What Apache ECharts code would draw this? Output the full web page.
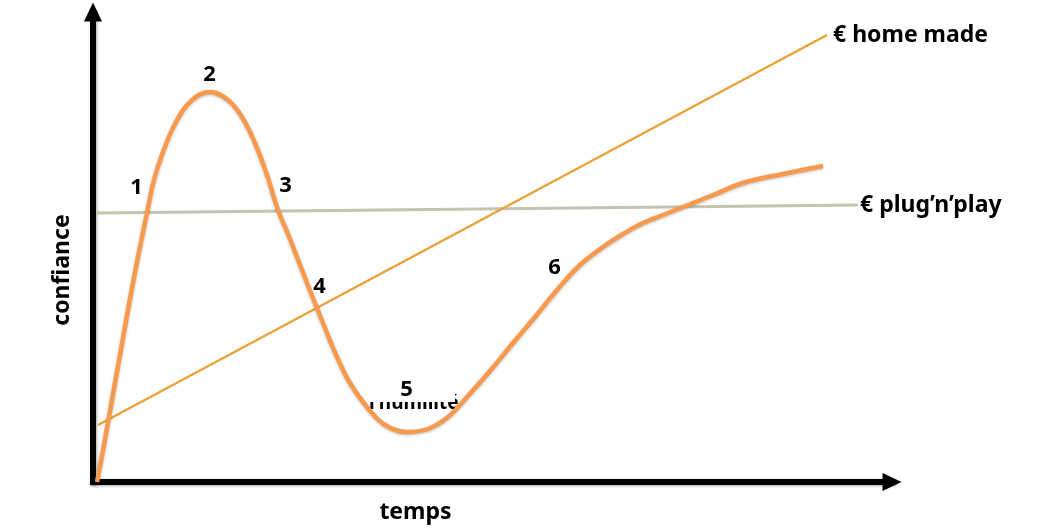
<!DOCTYPE html>
<html><head><meta charset="utf-8">
<script src="https://cdn.jsdelivr.net/npm/echarts@6/dist/echarts.min.js"></script>
<style>html,body{margin:0;padding:0;background:#fff}#c{width:1041px;height:530px}</style>
</head><body><div id="c"></div>
<script>
// Hype-cycle curve (x = temps, y = confiance), arbitrary units
const hypeX = [4,11,19,27,35,44,54,61,70,82,97,117,135,149,162,174,185,195,204,214,224,234,244,257,274,292,314,335,355,374,397,420,442,464,487,510,530,550,570,590,620,650,690,730];
const hypeY = [0,37,82,127,172,220,269,302,330,358,380,390,382,365,339,307,272,248,225,199,174,149,125,99,75,57,50,53,65,85,111,139,165,192,217,235,248,259,267,275,287,299,308,316];
// Straight lines
const homeMadeX = [5,734];
const homeMadeY = [57,447];
const plugPlayX = [4,765];
const plugPlayY = [269,277];
// Numbered stage labels
const stageNames = ['1','2','3','4','5','6'];
const stageX = [44,117,193,227,314,462];
const stageY = [294,407,296,195,92,214];
const seriesNames = ['€ home made','€ plug’n’play'];
const axisNames = ['temps','confiance'];

const zip = (xs, ys) => xs.map((x,i)=>[x, ys[i]]);
const font = '"Noto Sans", "Open Sans", sans-serif';
const axisLineStyle = {color:'#000', width:6, cap:'square', shadowColor:'rgba(0,0,0,0.35)', shadowBlur:3, shadowOffsetX:1, shadowOffsetY:1};

const chart = echarts.init(document.getElementById('c'));
chart.setOption({
  animation:false,
  backgroundColor:'#fff',
  grid:{left:93, right:149, top:12, bottom:48},
  xAxis:{type:'value', min:0, max:799,
    name:axisNames[0], nameLocation:'middle', nameGap:19,
    nameTextStyle:{fontFamily:font, fontWeight:'bold', fontSize:23, color:'#000', padding:[0,154,0,0]},
    axisLine:{show:true, symbol:['none','triangle'], symbolSize:[18,19], lineStyle:axisLineStyle},
    axisTick:{show:false}, axisLabel:{show:false}, splitLine:{show:false}},
  yAxis:{type:'value', min:0, max:470,
    name:axisNames[1], nameLocation:'middle', nameGap:19, nameRotate:90,
    nameTextStyle:{fontFamily:font, fontWeight:'bold', fontSize:23, color:'#000', padding:[0,46,0,0]},
    axisLine:{show:true, symbol:['none','triangle'], symbolSize:[18,19], lineStyle:axisLineStyle},
    axisTick:{show:false}, axisLabel:{show:false}, splitLine:{show:false}},
  graphic:[
    {type:'text', left:369, top:394, z:0, style:{text:'l’humilité', font:'bold 19px '+font, fill:'#000'}},
    {type:'rect', shape:{x:367, y:368, width:88, height:34}, z:1, style:{fill:'#fff'}}
  ],
  series:[
    {type:'line', name:seriesNames[1], data:zip(plugPlayX, plugPlayY), showSymbol:false, symbol:'none',
      lineStyle:{color:'#c4c4b0', width:3}, z:3,
      endLabel:{show:true, formatter:'{a}', distance:2, fontFamily:font, fontWeight:'bold', fontSize:23, color:'#000'}},
    {type:'line', name:seriesNames[0], data:zip(homeMadeX, homeMadeY), showSymbol:false, symbol:'none',
      lineStyle:{color:'#eaa23c', width:2.5}, z:4,
      endLabel:{show:true, formatter:'{a}', distance:6, fontFamily:font, fontWeight:'bold', fontSize:23, color:'#000'}},
    {type:'line', name:'hype', data:zip(hypeX, hypeY), showSymbol:false, symbol:'none',
      smooth:0.4,
      lineStyle:{color:'#f79a4e', width:4.5, shadowColor:'rgba(0,0,0,0.25)', shadowBlur:3, shadowOffsetY:1}, z:5},
    {type:'scatter', name:'stages', symbolSize:1, itemStyle:{opacity:0}, z:6,
      data:stageNames.map((n,i)=>({name:n, value:[stageX[i], stageY[i]]})),
      label:{show:true, position:[0,0], align:'center', verticalAlign:'middle', formatter:'{b}', fontFamily:font, fontWeight:'bold', fontSize:22, color:'#000', opacity:1}}
  ]
});
</script></body></html>
